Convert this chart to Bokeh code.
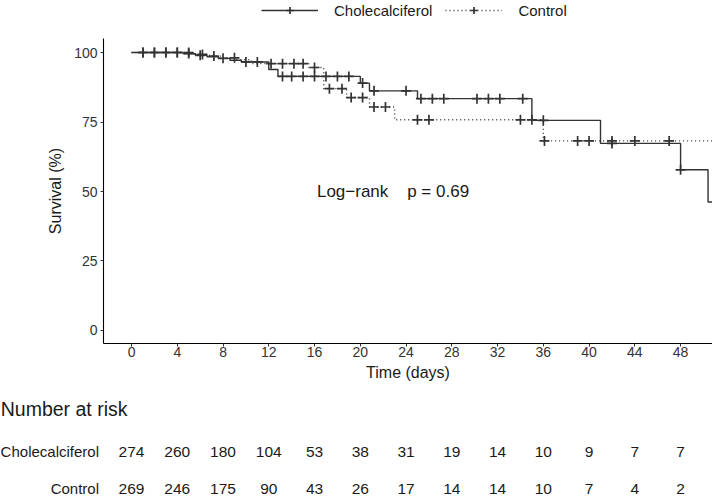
import numpy as np
from bokeh.plotting import figure
from bokeh.models import Range1d, Legend, LegendItem, FixedTicker
from bokeh.layouts import column
from bokeh.embed import file_html
from bokeh.resources import INLINE
from bokeh.core.properties import value

# ---------------- data ----------------
groups = ["Cholecalciferol", "Control"]

chole_time = [0, 4.5, 5.6, 6.6, 7.6, 8.6, 9.6, 12.0, 12.8, 20.0, 20.8, 25.0, 35.0, 41.0, 48.0, 50.4]
chole_surv = [100, 99.6, 99.0, 98.5, 97.9, 97.2, 96.6, 93.9, 91.4, 89.0, 86.2, 83.4, 75.6, 67.3, 57.8, 46.2]
chole_censor = [1, 2, 3, 4, 5, 6, 8, 10, 11, 13.2, 14, 15, 16, 17, 18, 19, 20.2, 21.2, 24,
                25.3, 26.3, 27.3, 30.2, 31.2, 32.2, 34.2, 36, 42, 48]
chole_end = 50.8

ctrl_time = [0, 5.5, 6.8, 8.0, 9.2, 10.5, 15.5, 16.8, 18.8, 20.8, 23.0, 36.0]
ctrl_surv = [100, 99.3, 98.7, 98.1, 97.4, 96.0, 94.6, 87.0, 83.8, 80.4, 75.8, 68.2]
ctrl_censor = [1, 2, 3, 4, 5, 6.2, 7.2, 9, 12.2, 13.2, 14.2, 15, 16, 17.3, 18.4, 19.2, 20.2,
               21.2, 22.2, 25, 26, 34, 35, 36.1, 39, 40, 42, 44, 47]
ctrl_end = 50.8

x_ticks = [0, 4, 8, 12, 16, 20, 24, 28, 32, 36, 40, 44, 48]
y_ticks = [0, 25, 50, 75, 100]

risk_times = [0, 4, 8, 12, 16, 20, 24, 28, 32, 36, 40, 44, 48]
risk_chole = [274, 260, 180, 104, 53, 38, 31, 19, 14, 10, 9, 7, 7]
risk_ctrl = [269, 246, 175, 90, 43, 26, 17, 14, 14, 10, 7, 4, 2]

pvalue_text = "Log\u2212rank\u00a0\u00a0\u00a0\u00a0p = 0.69"

# ---------------- styling / layout ----------------
FONT = "Liberation Sans"
INK = "#333333"
TXT = "#1a1a1a"
W = 712
LEFT = 103
X_RANGE = (-2.45, 50.79)
Y_RANGE = (-4.68, 105.04)


def step_xy(t, s, end):
    return list(t) + [end], list(s) + [s[-1]]


def censor_y(t, s, ct):
    idx = np.searchsorted(np.asarray(t), np.asarray(ct), side="right") - 1
    return list(np.asarray(s)[idx])


line_kw = dict(line_color=INK, line_width=1.4)
mark_kw = dict(marker="cross", size=10, line_color=INK, line_width=1.7)

# ---------------- legend strip ----------------
lg = figure(width=W, height=20, x_range=Range1d(0, 1), y_range=Range1d(0, 1),
            output_backend="svg", toolbar_location=None, min_border=0,
            x_axis_location=None, y_axis_location=None, frame_align=False)
lg.grid.visible = False
lg.outline_line_color = None
g1 = lg.line(x=[-5, -4], y=[-5, -5], **line_kw)
m1 = lg.scatter(x=[-5], y=[-5], **mark_kw)
g2 = lg.line(x=[-5, -4], y=[-5, -5], line_dash="1 3", **line_kw)
m2 = lg.scatter(x=[-5], y=[-5], **mark_kw)
legend = Legend(items=[LegendItem(label=groups[0], renderers=[g1, m1]),
                       LegendItem(label=groups[1], renderers=[g2, m2])],
                orientation="horizontal", location=(261, 1),
                border_line_color=None, background_fill_alpha=0,
                padding=0, margin=0, spacing=13, label_standoff=16,
                glyph_width=57, glyph_height=18, label_height=18,
                label_text_font=FONT, label_text_font_size="15px", label_text_color=TXT)
lg.add_layout(legend, "center")

# ---------------- survival plot ----------------
p = figure(width=W, height=368, x_range=Range1d(*X_RANGE), y_range=Range1d(*Y_RANGE),
           output_backend="svg", toolbar_location=None, frame_align=False,
           min_border_left=LEFT, min_border_right=0, min_border_top=18, min_border_bottom=45)
p.grid.visible = False
p.outline_line_color = None

cx, cy = step_xy(chole_time, chole_surv, chole_end)
kx, ky = step_xy(ctrl_time, ctrl_surv, ctrl_end)

p.step(cx, cy, mode="after", **line_kw)
p.scatter(chole_censor, censor_y(chole_time, chole_surv, chole_censor), **mark_kw)
p.step(kx, ky, mode="after", line_dash="1 3", **line_kw)
p.scatter(ctrl_censor, censor_y(ctrl_time, ctrl_surv, ctrl_censor), **mark_kw)

p.text(x=[22.86], y=[50], text=[pvalue_text], text_font=value(FONT), text_font_size="17px",
       text_align="center", text_baseline="middle", text_color=TXT)

for ax in (p.xaxis[0], p.yaxis[0]):
    ax.axis_line_color = "black"
    ax.axis_line_width = 1.1
    ax.major_tick_line_color = "#333333"
    ax.major_tick_out = 3
    ax.major_tick_in = 0
    ax.minor_tick_out = 0
    ax.minor_tick_in = 0
    ax.major_label_text_font = FONT
    ax.major_label_text_font_size = "14px"
    ax.major_label_text_color = "#333333"
    ax.axis_label_text_font = FONT
    ax.axis_label_text_font_size = "16px"
    ax.axis_label_text_font_style = "normal"
    ax.axis_label_text_color = TXT

p.xaxis.major_label_standoff = 0
p.xaxis.axis_label_standoff = 4
p.yaxis.major_label_standoff = 3
p.yaxis.axis_label_standoff = 7

p.xaxis.ticker = FixedTicker(ticks=x_ticks)
p.yaxis.ticker = FixedTicker(ticks=y_ticks)
p.xaxis.axis_label = "Time (days)"
p.yaxis.axis_label = "Survival (%)"

# ---------------- risk table ----------------
px_per_day = (W - LEFT) / (X_RANGE[1] - X_RANGE[0])
x0 = X_RANGE[0] - LEFT / px_per_day
RH = 110
r = figure(width=W, height=RH, x_range=Range1d(x0, X_RANGE[1]), y_range=Range1d(RH, 0),
           output_backend="svg", toolbar_location=None, min_border=0, frame_align=False,
           x_axis_location=None, y_axis_location=None)
r.grid.visible = False
r.outline_line_color = None

r.text(x=[x0 + 0.02], y=[20], text=["Number at risk"], text_font=value(FONT), text_font_size="19.5px",
       text_align="left", text_baseline="middle", text_color=TXT)
row_y = [63, 100]
label_x = x0 + 98.5 / px_per_day
r.text(x=[label_x, label_x], y=row_y, text=groups, text_font=value(FONT), text_font_size="15px",
       text_align="right", text_baseline="middle", text_color=TXT)
r.text(x=risk_times, y=[row_y[0]] * len(risk_times), text=[str(v) for v in risk_chole],
       text_font=value(FONT), text_font_size="15.5px", text_align="center",
       text_baseline="middle", text_color=TXT)
r.text(x=risk_times, y=[row_y[1]] * len(risk_times), text=[str(v) for v in risk_ctrl],
       text_font=value(FONT), text_font_size="15.5px", text_align="center",
       text_baseline="middle", text_color=TXT)

layout = column(lg, p, r, spacing=0)
open("out.html", "w").write(file_html(layout, INLINE))
